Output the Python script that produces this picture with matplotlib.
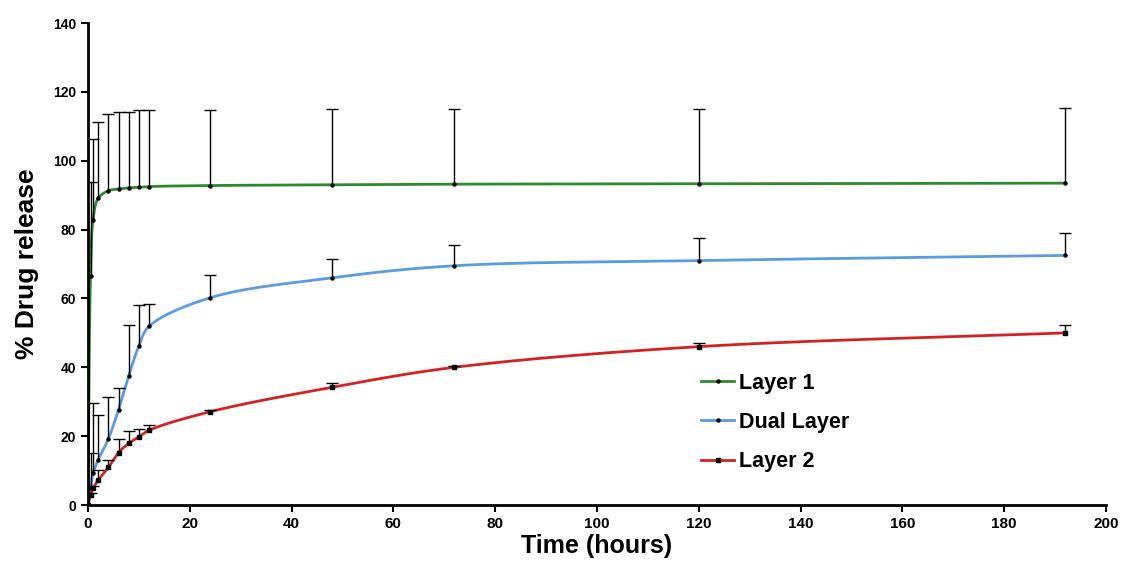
import numpy as np
import matplotlib
matplotlib.use("Agg")
import matplotlib.pyplot as plt
from matplotlib.lines import Line2D

# Release data (hours, % released)
time_h = [0, 0.5, 1, 2, 4, 6, 8, 10, 12, 24, 48, 72, 120, 192]

layer1 = [0, 66.4, 82.8, 89.1, 91.3, 91.8, 92.1, 92.3, 92.5, 92.8, 93.0, 93.2, 93.3, 93.5]
layer1_err = [0, 27.3, 23.5, 22.3, 22.2, 22.5, 22.2, 22.3, 22.1, 21.8, 22.0, 21.8, 21.7, 21.8]

dual = [0, 5.0, 9.2, 13.1, 19.2, 27.7, 37.5, 46.2, 51.9, 60.2, 66.0, 69.5, 71.0, 72.5]
dual_err = [0, 10.0, 20.4, 13.1, 12.2, 6.4, 14.7, 11.8, 6.6, 6.5, 5.5, 6.0, 6.5, 6.5]

layer2 = [0, 2.9, 4.8, 7.2, 10.9, 15.2, 17.9, 19.8, 21.7, 27.1, 34.2, 40.0, 46.0, 50.0]
layer2_err = [0, 0.6, 0.7, 3.0, 2.3, 4.1, 3.5, 2.4, 1.5, 0.4, 1.1, 0.3, 1.0, 2.3]

x_ticks = np.arange(0, 201, 20)
y_ticks = np.arange(0, 141, 20)


def smooth(x, y, sx, sy, n=24):
    # centripetal Catmull-Rom through the points, in pixel-like space
    p = np.column_stack([np.asarray(x) * sx, np.asarray(y) * sy])
    p = np.vstack([2 * p[0] - p[1], p, 2 * p[-1] - p[-2]])
    out = []
    for i in range(1, len(p) - 2):
        p0, p1, p2, p3 = p[i - 1], p[i], p[i + 1], p[i + 2]
        t0 = 0.0
        t1 = t0 + np.linalg.norm(p1 - p0) ** 0.5 + 1e-9
        t2 = t1 + np.linalg.norm(p2 - p1) ** 0.5 + 1e-9
        t3 = t2 + np.linalg.norm(p3 - p2) ** 0.5 + 1e-9
        t = np.linspace(t1, t2, n)[:, None]
        a1 = (t1 - t) / (t1 - t0) * p0 + (t - t0) / (t1 - t0) * p1
        a2 = (t2 - t) / (t2 - t1) * p1 + (t - t1) / (t2 - t1) * p2
        a3 = (t3 - t) / (t3 - t2) * p2 + (t - t2) / (t3 - t2) * p3
        b1 = (t2 - t) / (t2 - t0) * a1 + (t - t0) / (t2 - t0) * a2
        b2 = (t3 - t) / (t3 - t1) * a2 + (t - t1) / (t3 - t1) * a3
        c = (t2 - t) / (t2 - t1) * b1 + (t - t1) / (t2 - t1) * b2
        out.append(c)
    out = np.vstack(out)
    return out[:, 0] / sx, out[:, 1] / sy


fig = plt.figure(figsize=(11.22, 5.62), dpi=100)
ax = fig.add_axes([0.0784, 0.1014, 0.9073, 0.8576])

series = [
    ("Layer 1", layer1, layer1_err, "#2f8a2f", "o", 2.2),
    ("Dual Layer", dual, dual_err, "#5b9be0", "o", 2.2),
    ("Layer 2", layer2, layer2_err, "#d42222", "s", 2.6),
]

sx, sy = 1018 / 200, 482 / 140
handles = []
for name, vals, err, col, mk, ms in series:
    vals = np.asarray(vals)
    top = vals + np.asarray(err)
    xs, ys = smooth(time_h, vals, sx, sy)
    ax.plot(xs, ys, color=col, lw=2, zorder=2)
    # upper error bars only
    has_err = np.asarray(err) > 0
    t_arr = np.asarray(time_h)[has_err]
    ax.vlines(t_arr, vals[has_err], top[has_err], color="black", lw=1, zorder=3)
    ax.plot(t_arr, top[has_err], ls="none", marker="_", ms=8, mew=1,
            color="black", zorder=3)
    ax.plot(time_h, vals, ls="none", marker=mk, ms=ms, color="black", zorder=4)
    handles.append(Line2D([], [], color=col, lw=2, marker=mk, ms=ms,
                          markerfacecolor="black", markeredgecolor="black"))

ax.set_xlim(0, 200)
ax.set_ylim(0, 140)
ax.set_xticks(x_ticks)
ax.set_yticks(y_ticks)

for s in ["top", "right"]:
    ax.spines[s].set_visible(False)
for s in ["left", "bottom"]:
    ax.spines[s].set_linewidth(2)
ax.tick_params(axis="both", direction="out", length=5, width=1.5, color="black")

sans = ["Liberation Sans", "DejaVu Sans"]
ax.set_xticklabels([str(v) for v in x_ticks], family=sans, fontsize=11,
                   fontweight="bold")
ax.set_yticklabels([str(v) for v in y_ticks], family=sans,
                   fontsize=10, fontweight="bold")

ax.set_xlabel("Time (hours)", family=sans, fontsize=18, fontweight="bold", labelpad=2)
ax.set_ylabel("% Drug release", family=sans, fontsize=19, fontweight="bold",
              labelpad=10)

leg = ax.legend(handles, [s[0] for s in series], loc="upper left",
                bbox_to_anchor=(0.583, 0.315), frameon=False, handlelength=1.55,
                handletextpad=0.22, labelspacing=0.85,
                prop={"family": "Liberation Sans", "weight": "bold", "size": 15.5})

fig.savefig("out.png", dpi=100)
